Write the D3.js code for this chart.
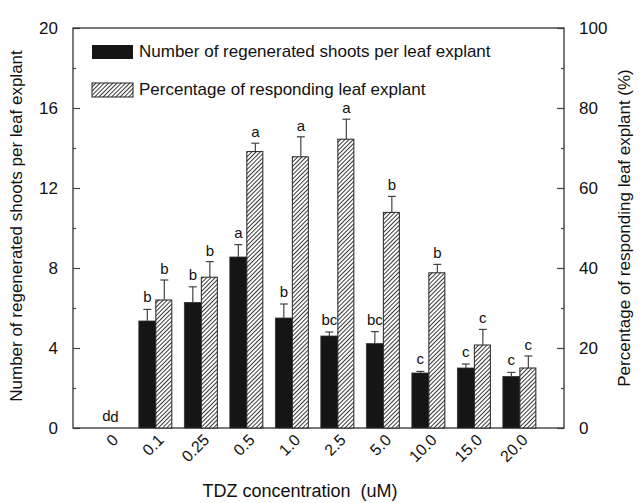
<!DOCTYPE html>
<html>
<head>
<meta charset="utf-8">
<script src="https://cdn.jsdelivr.net/npm/d3@7"></script>
<style>
  body { margin: 0; background: #fff; }
  svg text { font-family: "Liberation Sans", Arial, sans-serif; fill: #111; white-space: pre; }
</style>
</head>
<body>
<div id="result"></div>
<script>
// data
const concentrations = ['0', '0.1', '0.25', '0.5', '1.0', '2.5', '5.0', '10.0', '15.0', '20.0'];
const shoots = [0, 5.35, 6.28, 8.55, 5.5, 4.6, 4.22, 2.75, 3.0, 2.58];
const shootsErr = [0, 0.58, 0.78, 0.62, 0.7, 0.2, 0.6, 0.08, 0.2, 0.2];
const shootsLetters = ['d', 'b', 'b', 'a', 'b', 'bc', 'bc', 'c', 'c', 'c'];
const responding = [0, 32, 37.7, 69.1, 67.8, 72.2, 53.9, 38.8, 20.75, 15];
const respondingErr = [0, 5, 3.9, 2.1, 5, 5, 4, 2.1, 3.9, 3];
const respondingLetters = ['d', 'b', 'b', 'a', 'a', 'a', 'b', 'b', 'c', 'c'];
const leftTicks = [0, 4, 8, 12, 16, 20];
const rightTicks = [0, 20, 40, 60, 80, 100];

const width = 643;
const height = 503;
const plot = { left: 73, right: 564, top: 28, bottom: 428 };
const barW = 17;

const svg = d3.select('#result')
    .append('svg')
    .attr('width', width)
    .attr('height', height);

// hatch pattern for the percentage bars
svg.append('defs')
    .append('pattern')
    .attr('id', 'hatch')
    .attr('patternUnits', 'userSpaceOnUse')
    .attr('width', 3)
    .attr('height', 3)
    .attr('patternTransform', 'rotate(45)')
    .call(p => {
        p.append('rect').attr('width', 3).attr('height', 3).attr('fill', '#fff');
        p.append('line')
            .attr('x1', 0.5).attr('y1', 0).attr('x2', 0.5).attr('y2', 3)
            .attr('stroke', '#222').attr('stroke-width', 0.9);
    });

// category index -> pixel
const xScale = d3.scaleLinear()
    .domain([-0.82, 9.97])
    .range([plot.left, plot.right]);

const yLeft = d3.scaleLinear()
    .domain([0, 20])
    .range([plot.bottom, plot.top]);

const yRight = d3.scaleLinear()
    .domain([0, 100])
    .range([plot.bottom, plot.top]);

const g = svg.append('g');

// left axis, ticks pointing inward
const leftAxis = g.append('g')
    .attr('transform', `translate(${plot.left},0)`)
    .call(d3.axisLeft(yLeft).tickValues(leftTicks).tickSize(-7).tickPadding(15));
const leftMinor = g.append('g')
    .attr('transform', `translate(${plot.left},0)`)
    .call(d3.axisLeft(yLeft).tickValues([2, 6, 10, 14, 18]).tickSize(-3).tickFormat(''));

const rightAxis = g.append('g')
    .attr('transform', `translate(${plot.right},0)`)
    .call(d3.axisRight(yRight).tickValues(rightTicks).tickSize(-7).tickPadding(15));
const rightMinor = g.append('g')
    .attr('transform', `translate(${plot.right},0)`)
    .call(d3.axisRight(yRight).tickValues([10, 30, 50, 70, 90]).tickSize(-3).tickFormat(''));

[leftAxis, leftMinor, rightAxis, rightMinor].forEach(a => {
    a.select('.domain').remove();
    a.selectAll('line').attr('stroke', '#444').attr('stroke-width', 1.2);
    a.selectAll('text').style('font-size', '17px').attr('fill', '#111');
});

// frame
g.append('rect')
    .attr('x', plot.left)
    .attr('y', plot.top)
    .attr('width', plot.right - plot.left)
    .attr('height', plot.bottom - plot.top)
    .attr('fill', 'none')
    .attr('stroke', '#333')
    .attr('stroke-width', 1.3);

// bars
const idx = d3.range(concentrations.length);

g.append('g')
    .selectAll('rect')
    .data(idx)
    .enter()
    .append('rect')
        .attr('x', i => xScale(i) - barW)
        .attr('y', i => yLeft(shoots[i]))
        .attr('width', barW)
        .attr('height', i => plot.bottom - yLeft(shoots[i]))
        .attr('fill', '#151515')
        .attr('stroke', '#333')
        .attr('stroke-width', 0.8);

g.append('g')
    .selectAll('rect')
    .data(idx)
    .enter()
    .append('rect')
        .attr('x', i => xScale(i))
        .attr('y', i => yRight(responding[i]))
        .attr('width', barW - 1)
        .attr('height', i => plot.bottom - yRight(responding[i]))
        .attr('fill', 'url(#hatch)')
        .attr('stroke', '#222')
        .attr('stroke-width', 1);

// error bars (upper half only)
function errorBars(cx, top, errTop) {
    const eg = g.append('g');
    idx.filter(i => shoots[i] > 0 || responding[i] > 0).forEach(i => {
        eg.append('line')
            .attr('x1', cx(i)).attr('x2', cx(i))
            .attr('y1', top(i)).attr('y2', errTop(i))
            .attr('stroke', '#444').attr('stroke-width', 1.2);
        eg.append('line')
            .attr('x1', cx(i) - 4).attr('x2', cx(i) + 4)
            .attr('y1', errTop(i)).attr('y2', errTop(i))
            .attr('stroke', '#444').attr('stroke-width', 1.2);
    });
}
errorBars(i => xScale(i) - barW / 2, i => yLeft(shoots[i]), i => yLeft(shoots[i] + shootsErr[i]));
errorBars(i => xScale(i) + barW / 2, i => yRight(responding[i]), i => yRight(responding[i] + respondingErr[i]));

// significance letters
g.append('g')
    .selectAll('text')
    .data(idx)
    .enter()
    .append('text')
        .attr('x', i => shoots[i] > 0 ? xScale(i) - barW / 2 : xScale(i) - 4)
        .attr('y', i => yLeft(shoots[i] + shootsErr[i]) - 7)
        .attr('text-anchor', 'middle')
        .style('font-size', '15px')
        .text(i => shootsLetters[i]);

g.append('g')
    .selectAll('text')
    .data(idx)
    .enter()
    .append('text')
        .attr('x', i => responding[i] > 0 ? xScale(i) + barW / 2 : xScale(i) + 4)
        .attr('y', i => yRight(responding[i] + respondingErr[i]) - 6)
        .attr('text-anchor', 'middle')
        .style('font-size', '15px')
        .text(i => respondingLetters[i]);

// x tick labels, rotated
g.append('g')
    .selectAll('text')
    .data(idx)
    .enter()
    .append('text')
        .attr('transform', i => `translate(${xScale(i) + 9},${plot.bottom + 13}) rotate(-45)`)
        .attr('text-anchor', 'end')
        .style('font-size', '16px')
        .text(i => concentrations[i]);

// legend
const legend = g.append('g');
legend.append('rect')
    .attr('x', 92).attr('y', 45).attr('width', 41).attr('height', 14)
    .attr('fill', '#151515');
legend.append('text')
    .attr('x', 139).attr('y', 57)
    .style('font-size', '17px')
    .text('Number of regenerated shoots per leaf explant');
legend.append('rect')
    .attr('x', 92).attr('y', 83).attr('width', 41).attr('height', 14)
    .attr('fill', 'url(#hatch)')
    .attr('stroke', '#222').attr('stroke-width', 1);
legend.append('text')
    .attr('x', 139).attr('y', 95)
    .style('font-size', '17px')
    .text('Percentage of responding leaf explant');

// axis titles
svg.append('text')
    .attr('transform', `translate(22,${(plot.top + plot.bottom) / 2 - 2}) rotate(-90)`)
    .attr('text-anchor', 'middle')
    .style('font-size', '17px')
    .text('Number of regenerated shoots per leaf explant');

svg.append('text')
    .attr('transform', `translate(630,${(plot.top + plot.bottom) / 2}) rotate(-90)`)
    .attr('text-anchor', 'middle')
    .style('font-size', '17px')
    .text('Percentage of responding leaf explant (%)');

svg.append('text')
    .attr('x', 300)
    .attr('y', 497)
    .attr('text-anchor', 'middle')
    .style('font-size', '18px')
    .text('TDZ concentration  (uM)');
</script>
</body>
</html>
